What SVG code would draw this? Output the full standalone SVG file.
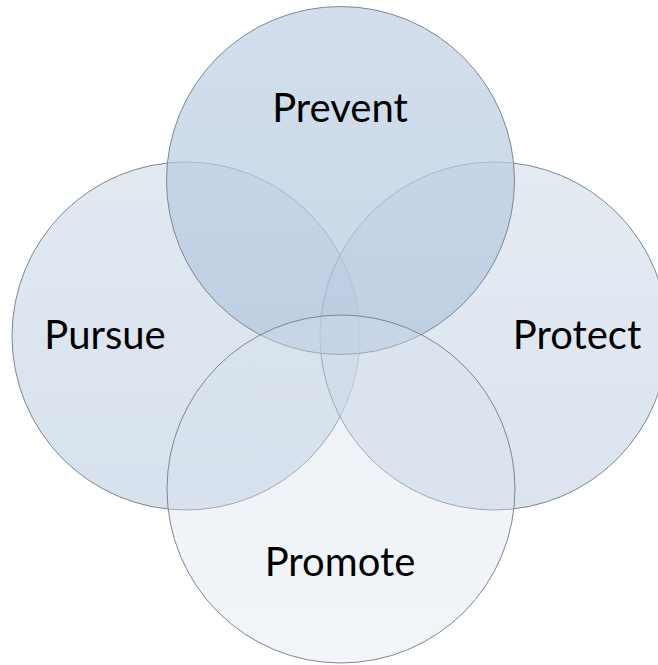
<svg xmlns="http://www.w3.org/2000/svg" width="658" height="665" viewBox="0 0 658 665">
<defs>
<linearGradient id="gPrev" x1="0" y1="0" x2="0" y2="1">
<stop offset="0" stop-color="#bfd0e3"/>
<stop offset="1" stop-color="#b2c6de"/>
</linearGradient>
<linearGradient id="gSide" x1="0" y1="0" x2="0" y2="1">
<stop offset="0" stop-color="#d2dde9"/>
<stop offset="1" stop-color="#c2d2e5"/>
</linearGradient>
<linearGradient id="gProm" x1="0" y1="0" x2="0" y2="1">
<stop offset="0" stop-color="#d3deea"/>
<stop offset="1" stop-color="#dbe3ee"/>
</linearGradient>
<clipPath id="page"><rect x="0" y="0" width="658" height="665"/></clipPath>
</defs>
<style>
.c{stroke:#7f8690;stroke-width:1}
.t{font-family:Lato,"Open Sans","Liberation Sans",sans-serif;font-size:40px;fill:#000;text-anchor:middle}
</style>
<rect width="658" height="665" fill="#ffffff"/>
<g clip-path="url(#page)">
<g id="pursue">
<circle class="c" cx="186" cy="336" r="174" fill="url(#gSide)" fill-opacity="0.65"/>
</g>
<g id="protect">
<circle class="c" cx="494" cy="336" r="174" fill="url(#gSide)" fill-opacity="0.6"/>
</g>
<g id="prevent">
<circle class="c" cx="340.5" cy="180.5" r="174" fill="url(#gPrev)" fill-opacity="0.7"/>
</g>
<g id="promote">
<circle class="c" cx="341" cy="489" r="174" fill="url(#gProm)" fill-opacity="0.38"/>
</g>
</g>
<g id="connectors"></g>
<g id="labels">
<text class="t" x="340" y="122">Prevent</text>
<text class="t" x="105" y="349">Pursue</text>
<text class="t" x="577" y="349">Protect</text>
<text class="t" x="340" y="576">Promote</text>
</g>
</svg>
